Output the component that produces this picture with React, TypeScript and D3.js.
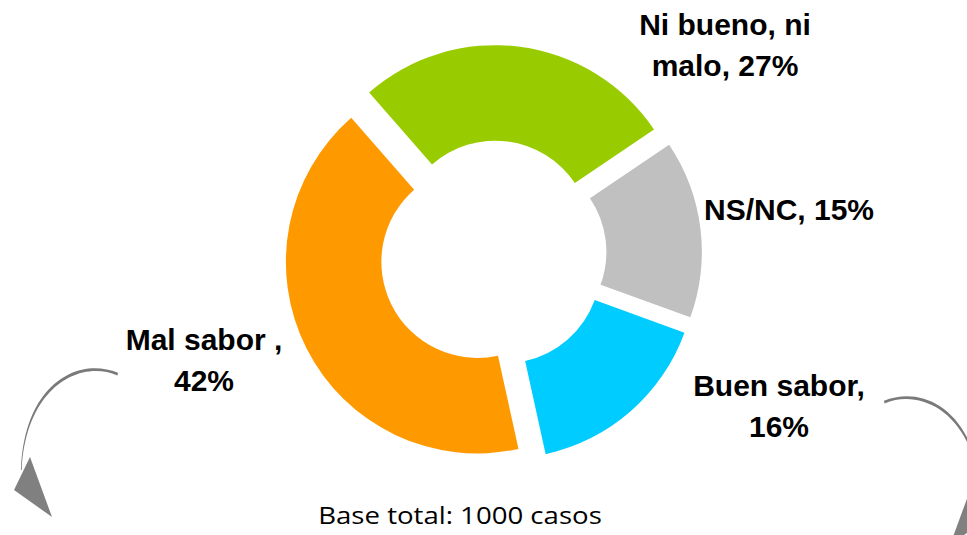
import { useMemo } from 'react';
import * as d3 from 'd3';

const categories = ['Ni bueno, ni malo', 'NS/NC', 'Buen sabor', 'Mal sabor'];
const values = [27, 15, 16, 42];
const colors = ['#99CC00', '#C0C0C0', '#00CCFF', '#FF9900'];
const labelLines = [
  ['Ni bueno, ni', 'malo, 27%'],
  ['NS/NC, 15%'],
  ['Buen sabor,', '16%'],
  ['Mal sabor ,', '42%'],
];
const footnote = 'Base total: 1000 casos';

// where each label block sits (centre x, first baseline y)
const labelPos = [
  { x: 725, y: 35 },
  { x: 789, y: 220 },
  { x: 779, y: 396 },
  { x: 204, y: 350 },
];

const W = 967;
const H = 535;
const cx = 493;
const cy = 254;
const outerR = 191.5;
const innerR = 96;
const explode = 17.5;
const startDeg = -41.2;

function Arrow({ mirror = false }) {
  // curved arrow, tapered stroke, drawn for the left side and mirrored for the right
  const tx = mirror ? 'translate(1002,28) scale(-1,1)' : undefined;
  return (
    <g transform={tx}>
      <path
        d="M118,372.8 C78,356 24,384 21,470 L21.8,470 C25.5,389 78,359 117.5,375.4 Z"
        fill="#7a7a7a"
      />
      <path d="M30,457 L14,490 L52,517 Z" fill="#808080" />
    </g>
  );
}

export default function App() {
  const slices = useMemo(() => {
    const pie = d3
      .pie<number>()
      .sort(null)
      .value((d) => d)
      .startAngle((startDeg * Math.PI) / 180)
      .endAngle((startDeg * Math.PI) / 180 + 2 * Math.PI);
    const arc = d3.arc<d3.PieArcDatum<number>>().innerRadius(innerR).outerRadius(outerR);
    return pie(values).map((p, i) => {
      const mid = (p.startAngle + p.endAngle) / 2;
      return {
        path: arc(p) || '',
        dx: Math.sin(mid) * explode,
        dy: -Math.cos(mid) * explode,
        color: colors[i],
        key: categories[i],
      };
    });
  }, []);

  return (
    <svg
      width={W}
      height={H}
      style={{ position: 'absolute', left: 0, top: 0, background: '#fff' }}
    >
      <g transform={`translate(${cx},${cy})`}>
        {slices.map((s) => (
          <path key={s.key} d={s.path} fill={s.color} transform={`translate(${s.dx},${s.dy})`} />
        ))}
      </g>
      {labelLines.map((lines, i) => (
        <text
          key={categories[i]}
          x={labelPos[i].x}
          y={labelPos[i].y}
          textAnchor="middle"
          fontFamily="'Liberation Sans', Arial, sans-serif"
          fontWeight="bold"
          fontSize={30}
          fill="#000"
        >
          {lines.map((t, j) => (
            <tspan key={j} x={labelPos[i].x} dy={j === 0 ? 0 : 41}>
              {t}
            </tspan>
          ))}
        </text>
      ))}
      <text
        transform="translate(460,524) scale(1.2,1)"
        textAnchor="middle"
        fontFamily="'Open Sans', sans-serif"
        fontSize={23}
        fill="#000"
      >
        {footnote}
      </text>
      <Arrow />
      <Arrow mirror />
    </svg>
  );
}
